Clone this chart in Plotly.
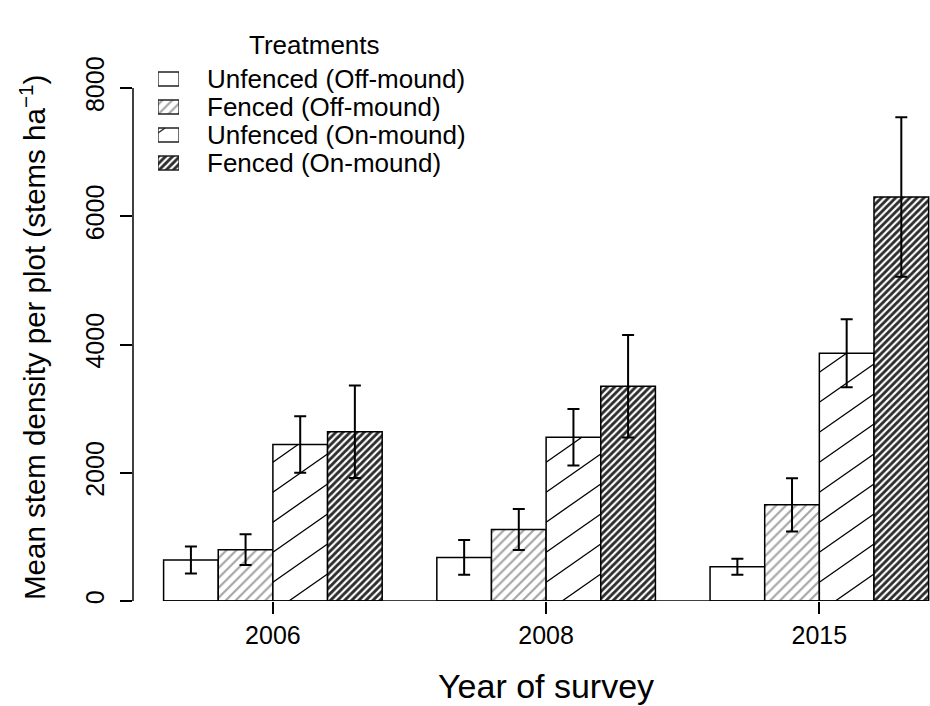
import math
import plotly.graph_objects as go

# ---------------- data ----------------
years = ["2006", "2008", "2015"]
series_names = ["Unfenced (Off-mound)", "Fenced (Off-mound)",
                "Unfenced (On-mound)", "Fenced (On-mound)"]

unfenced_off = [640, 680, 535]
unfenced_off_se = [210, 270, 125]
fenced_off = [800, 1115, 1500]
fenced_off_se = [240, 320, 415]
unfenced_on = [2440, 2555, 3865]
unfenced_on_se = [440, 440, 530]
fenced_on = [2640, 3350, 6300]
fenced_on_se = [720, 800, 1245]

y_ticks = [0, 2000, 4000, 6000, 8000]
y_tick_labels = ["0", "2000", "4000", "6000", "8000"]

# ---------------- styles / layout ----------------
FONT = "Liberation Sans, Arial, Helvetica, sans-serif"
W, H = 930, 706
PLOT_L, PLOT_R, PLOT_T, PLOT_B = 133, 930, 20, 601
YMAX_PX = 88          # pixel row of the top tick
XMIN, XMAX = -0.512, 2.405
BARGAP = 0.2
NSER = 4

group_pos = list(range(len(years)))

def px_x(px):
    return (px - PLOT_L) / (PLOT_R - PLOT_L)

def px_y(py):
    return (PLOT_B - py) / (PLOT_B - PLOT_T)

y_top = y_ticks[-1] * (PLOT_B - PLOT_T) / (PLOT_B - YMAX_PX)

def cat_to_px(c):
    return PLOT_L + (c - XMIN) / (XMAX - XMIN) * (PLOT_R - PLOT_L)

def px_to_cat(p):
    return XMIN + (p - PLOT_L) / (PLOT_R - PLOT_L) * (XMAX - XMIN)

def val_to_py(v):
    return PLOT_B - v / y_top * (PLOT_B - PLOT_T)

def py_to_val(p):
    return (PLOT_B - p) / (PLOT_B - PLOT_T) * y_top

# hatch line geometry for the sparse, shallow hatching (pixel space)
HATCH_ANGLE = 35.0
HATCH_STEP = 30.0
HATCH_K = math.tan(math.radians(HATCH_ANGLE))

def hatch_segments(L, R, T, B, c0):
    """segments of lines y = c - k*x (pixel coords) clipped to the rectangle"""
    segs = []
    cmin = T + HATCH_K * L
    cmax = B + HATCH_K * R
    n0 = math.floor((cmin - c0) / HATCH_STEP)
    n1 = math.ceil((cmax - c0) / HATCH_STEP)
    for n in range(n0, n1 + 1):
        c = c0 + n * HATCH_STEP
        xa = max(L, (c - B) / HATCH_K)
        xb = min(R, (c - T) / HATCH_K)
        if xb - xa > 0.5:
            segs.append(((xa, c - HATCH_K * xa), (xb, c - HATCH_K * xb)))
    return segs

pat_shape = ["", "/", "", "/"]
pat_size = [8, 7, 8, 5]
pat_solid = [0.2, 0.3, 0.2, 0.58]
pat_fg = ["black", "#a4a4a4", "black", "#2c2c2c"]

values = [unfenced_off, fenced_off, unfenced_on, fenced_on]
errors = [unfenced_off_se, fenced_off_se, unfenced_on_se, fenced_on_se]

fig = go.Figure()
for i, (name, vals, errs) in enumerate(zip(series_names, values, errors)):
    fig.add_trace(go.Bar(
        x=group_pos, y=vals, name=name, showlegend=False,
        marker=dict(color="white", line=dict(color="black", width=1.5),
                    pattern=dict(shape=pat_shape[i], size=pat_size[i],
                                 solidity=pat_solid[i], fgcolor=pat_fg[i],
                                 fgopacity=1, bgcolor="white")),
        error_y=dict(type="data", array=errs, visible=True, color="black",
                     thickness=2, width=6),
        cliponaxis=False,
    ))

# shallow hatching of the "Unfenced (On-mound)" bars, computed from their values
bw = (1 - BARGAP) / NSER
hx, hy = [], []
for g, v in zip(group_pos, unfenced_on):
    left_c = g - (1 - BARGAP) / 2 + 2 * bw
    L, R = cat_to_px(left_c), cat_to_px(left_c + bw)
    T, B = val_to_py(v), val_to_py(0)
    for (x1, y1), (x2, y2) in hatch_segments(L, R, T, B, B + HATCH_K * (L + 16)):
        hx += [px_to_cat(x1), px_to_cat(x2), None]
        hy += [py_to_val(y1), py_to_val(y2), None]
fig.add_trace(go.Scatter(x=hx, y=hy, mode="lines", showlegend=False,
                         hoverinfo="skip", line=dict(color="black", width=1.3)))

# legend swatches (hatched boxes) on a small helper axis
rows = list(range(len(series_names)))
SW_L, SW_R = 158, 179
ROW_TOP, ROW_BOT = 65, 177
row_h = (ROW_BOT - ROW_TOP) / len(rows)
fig.add_trace(go.Bar(
    x=[1] * len(rows), y=rows, base=0, width=0.5, orientation="h",
    xaxis="x2", yaxis="y2", showlegend=False, hoverinfo="skip",
    marker=dict(color="white", line=dict(color="#222222", width=1.3),
                pattern=dict(shape=pat_shape, size=pat_size, solidity=pat_solid,
                             fgcolor=pat_fg, fgopacity=1, bgcolor="white")),
))
# shallow hatch inside the third swatch
r = 2
cy = ROW_TOP + (r + 0.5) * row_h
sL, sR, sT, sB = SW_L, SW_R, cy - 0.25 * row_h, cy + 0.25 * row_h
lx, ly = [], []
for (x1, y1), (x2, y2) in hatch_segments(sL, sR, sT, sB, sT + 5 + HATCH_K * sL):
    lx += [(x1 - SW_L) / (SW_R - SW_L), (x2 - SW_L) / (SW_R - SW_L), None]
    ly += [r + (y1 - cy) / row_h, r + (y2 - cy) / row_h, None]
fig.add_trace(go.Scatter(x=lx, y=ly, mode="lines", xaxis="x2", yaxis="y2",
                         showlegend=False, hoverinfo="skip",
                         line=dict(color="#222222", width=1.2)))

for r, name in zip(rows, series_names):
    fig.add_annotation(text=name, xref="paper", yref="y2", x=px_x(205), y=r,
                       xanchor="left", yanchor="middle", showarrow=False,
                       font=dict(size=26, family=FONT, color="black"))
fig.add_annotation(text="Treatments", xref="paper", yref="paper",
                   x=px_x(314), y=px_y(45), xanchor="center", yanchor="middle",
                   showarrow=False, font=dict(size=26, family=FONT, color="black"))

# baseline under the bars and y axis line spanning the ticks
half = (1 - BARGAP) / 2
fig.add_shape(type="line", xref="x", yref="y",
              x0=group_pos[0] - half, x1=group_pos[-1] + half, y0=0, y1=0,
              line=dict(color="black", width=1.5), layer="above")
fig.add_shape(type="line", xref="paper", yref="y", x0=0, x1=0,
              y0=y_ticks[0], y1=y_ticks[-1], line=dict(color="black", width=1.5))

# axis titles
fig.add_annotation(text="Year of survey", xref="x", yref="paper",
                   x=(group_pos[0] + group_pos[-1]) / 2, y=0, xanchor="center",
                   yanchor="middle", yshift=-85, showarrow=False,
                   font=dict(size=34, family=FONT, color="black"))
fig.add_annotation(text="Mean stem density per plot (stems ha<sup>\u22121</sup>)",
                   xref="paper", yref="paper", x=0, y=px_y(338), xanchor="center",
                   yanchor="middle", xshift=-101, textangle=-90, showarrow=False,
                   font=dict(size=29.5, family=FONT, color="black"))

fig.update_layout(
    width=W, height=H,
    margin=dict(l=PLOT_L, r=W - PLOT_R, t=PLOT_T, b=H - PLOT_B, autoexpand=False),
    plot_bgcolor="white", paper_bgcolor="white",
    barmode="group", bargap=BARGAP, bargroupgap=0,
    font=dict(family=FONT, color="black"),
    showlegend=False,
    xaxis=dict(type="linear", range=[XMIN, XMAX], showline=False,
               tickvals=group_pos, ticktext=years,
               showgrid=False, zeroline=False, ticks="outside", ticklen=12,
               tickwidth=1.5, tickcolor="black",
               tickfont=dict(size=25, family=FONT, color="black")),
    yaxis=dict(range=[0, y_top], tickvals=y_ticks, ticktext=y_tick_labels,
               showline=False, ticks="outside", ticklen=12, tickwidth=1.5,
               tickcolor="black", tickangle=-90, ticklabelstandoff=6,
               showgrid=False, zeroline=False,
               tickfont=dict(size=25, family=FONT, color="black")),
    xaxis2=dict(domain=[px_x(SW_L), px_x(SW_R)], range=[0, 1], visible=False,
                anchor="y2", fixedrange=True),
    yaxis2=dict(domain=[px_y(ROW_BOT), px_y(ROW_TOP)], range=[3.5, -0.5],
                visible=False, anchor="x2", fixedrange=True),
)

fig.write_html("out.html")
